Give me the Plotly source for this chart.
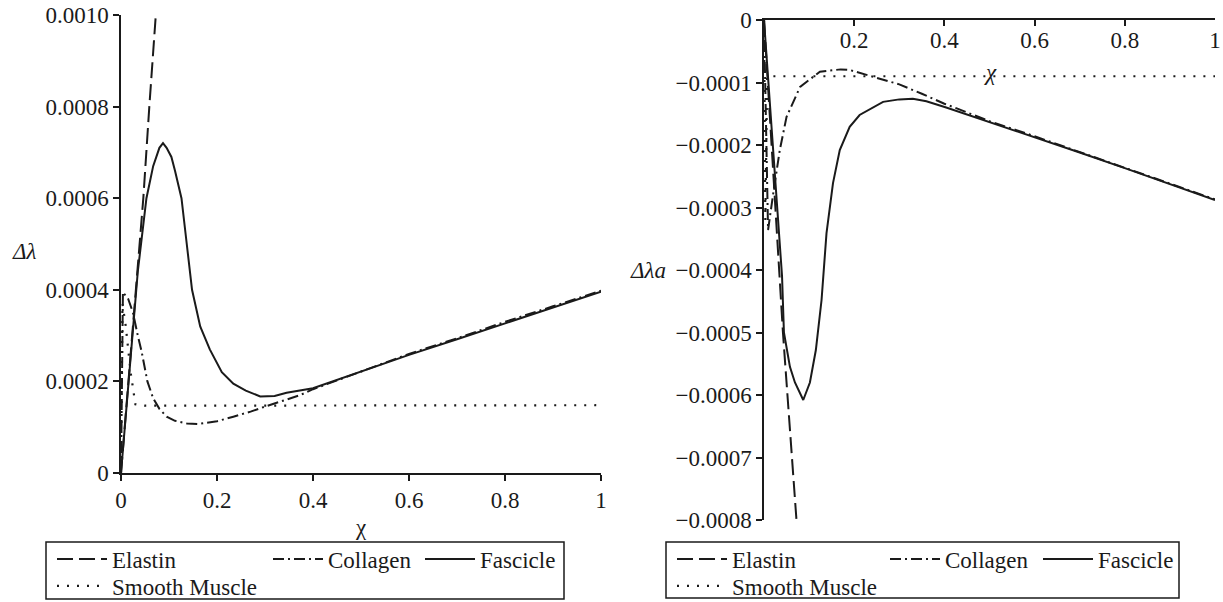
import plotly.graph_objects as go

W, H = 1223, 602

# ---------------- Left panel data (Δλ vs χ) ----------------
elastin_L_x = [0, 0.0465, 0.059, 0.0725]
elastin_L_y = [0, 0.0006, 0.0008, 0.0010]

collagen_L_x = [0, 0.004, 0.015, 0.025, 0.035, 0.043, 0.055, 0.067, 0.08, 0.095, 0.1125, 0.1375, 0.16,
                0.2, 0.234, 0.27, 0.3, 0.34, 0.373, 0.4, 0.5, 0.6, 0.7, 0.8, 0.9, 1.0]
collagen_L_y = [0, 0.000395, 0.00038, 0.00035, 0.0003, 0.000265, 0.0002, 0.000163, 0.00014, 0.000123,
                0.000114, 0.000108, 0.000107, 0.000113, 0.000123, 0.000134, 0.000145, 0.000158, 0.00017,
                0.000183, 0.000222, 0.00026, 0.000294, 0.00033, 0.000364, 0.000398]

fascicle_L_x = [0, 0.02, 0.035, 0.053, 0.067, 0.08, 0.0875, 0.095, 0.105, 0.1125, 0.126, 0.137, 0.148,
                0.165, 0.185, 0.21, 0.234, 0.26, 0.29, 0.32, 0.345, 0.4, 0.5, 0.6, 0.7, 0.8, 0.9, 1.0]
fascicle_L_y = [0, 0.00025, 0.00044, 0.0006, 0.00067, 0.00071, 0.00072, 0.00071, 0.00069, 0.00066,
                0.0006, 0.0005, 0.0004, 0.00032, 0.00027, 0.00022, 0.000195, 0.00018, 0.000167,
                0.000168, 0.000175, 0.000185, 0.000222, 0.000258, 0.000292, 0.000327, 0.000362, 0.000396]

smooth_L_x = [0, 0.003, 0.01, 0.02, 0.03, 0.05, 1.0]
smooth_L_y = [0, 0.00037, 0.00032, 0.00022, 0.00015, 0.000147, 0.000148]

# ---------------- Right panel data (Δλa vs χ) ----------------
elastin_R_x = [0, 0.02, 0.042, 0.072]
elastin_R_y = [0, -0.000235, -0.0005, -0.0008]

collagen_R_x = [0, 0.009, 0.02, 0.035, 0.05, 0.08, 0.124, 0.17, 0.19, 0.257, 0.3, 0.35, 0.4, 0.426,
                0.5, 0.6, 0.7, 0.8, 0.9, 1.0]
collagen_R_y = [0, -0.000336, -0.00028, -0.000208, -0.000155, -0.000107, -0.0000827, -0.000079,
                -0.00008, -0.0000933, -0.000103, -0.000118, -0.000134, -0.000141, -0.000162,
                -0.000186, -0.000211, -0.000236, -0.000261, -0.000287]

fascicle_R_x = [0, 0.02, 0.04, 0.0442, 0.0575, 0.0686, 0.087, 0.1018, 0.115, 0.1276, 0.1386, 0.153,
                0.168, 0.19, 0.212, 0.264, 0.3, 0.33, 0.36, 0.404, 0.5, 0.6, 0.7, 0.8, 0.9, 1.0]
fascicle_R_y = [0, -0.0002, -0.00041, -0.0005, -0.000555, -0.00058, -0.000608, -0.00058, -0.000528,
                -0.000448, -0.000341, -0.000261, -0.000208, -0.000171, -0.000152, -0.000131,
                -0.000127, -0.000126, -0.00013, -0.00014, -0.000163, -0.000187, -0.000212,
                -0.000237, -0.000262, -0.000288]

smooth_R_x = [0, 0.003, 0.007, 1.0]
smooth_R_y = [0, -0.00032, -0.00009, -0.00009]

# tick labels
x_ticks_L = [0, 0.2, 0.4, 0.6, 0.8, 1.0]
x_text_L = ["0", "0.2", "0.4", "0.6", "0.8", "1"]
y_ticks_L = [0, 0.0002, 0.0004, 0.0006, 0.0008, 0.0010]
y_text_L = ["0", "0.0002", "0.0004", "0.0006", "0.0008", "0.0010"]
x_ticks_R = [0.2, 0.4, 0.6, 0.8, 1.0]
x_text_R = ["0.2", "0.4", "0.6", "0.8", "1"]
y_ticks_R = [0, -0.0001, -0.0002, -0.0003, -0.0004, -0.0005, -0.0006, -0.0007, -0.0008]
y_text_R = ["0", "−0.0001", "−0.0002", "−0.0003", "−0.0004", "−0.0005", "−0.0006", "−0.0007", "−0.0008"]

names = ["Elastin", "Collagen", "Fascicle", "Smooth Muscle"]

FONT = "'Liberation Serif', 'Times New Roman', Times, serif"
FS = 23
INK = "#1a1a1a"
styles = {
    "Elastin": dict(dash="16px,6px", width=2),
    "Collagen": dict(dash="11px,4px,2px,4px", width=2),
    "Fascicle": dict(dash="solid", width=2),
    "Smooth Muscle": dict(dash="2px,8px", width=2.2),
}


def px(x):
    return x / W


def py(y):
    return (H - y) / H


fig = go.Figure()

left = [(elastin_L_x, elastin_L_y), (collagen_L_x, collagen_L_y),
        (fascicle_L_x, fascicle_L_y), (smooth_L_x, smooth_L_y)]
right = [(elastin_R_x, elastin_R_y), (collagen_R_x, collagen_R_y),
         (fascicle_R_x, fascicle_R_y), (smooth_R_x, smooth_R_y)]

for i, (nm, (xs, ys)) in enumerate(zip(names, left)):
    fig.add_trace(go.Scatter(x=xs, y=ys, mode="lines", name=nm, showlegend=True,
                             line=dict(color=INK, **styles[nm]),
                             xaxis="x", yaxis="y", legend=f"legend{i+1}" if i else "legend"))
for i, (nm, (xs, ys)) in enumerate(zip(names, right)):
    fig.add_trace(go.Scatter(x=xs, y=ys, mode="lines", name=nm, showlegend=True,
                             line=dict(color=INK, **styles[nm]),
                             xaxis="x2", yaxis="y2", legend=f"legend{i+5}"))

tickfont = dict(family=FONT, size=FS, color=INK)
axis_common = dict(showgrid=False, zeroline=False, showline=True, linecolor=INK, linewidth=1.5,
                   ticks="outside", ticklen=6, tickwidth=1.5, tickcolor=INK, tickfont=tickfont,
                   tickmode="array", ticklabeloverflow="allow")

fig.update_layout(
    width=W, height=H,
    margin=dict(l=0, r=0, t=0, b=0, autoexpand=False),
    paper_bgcolor="white", plot_bgcolor="white",
    font=dict(family=FONT, size=FS, color=INK),
    showlegend=True,
    xaxis=dict(domain=[px(121), px(601)], range=[0, 1], anchor="y",
               tickvals=x_ticks_L, ticktext=x_text_L, **axis_common),
    yaxis=dict(domain=[py(473), py(15)], range=[0, 0.001], anchor="x",
               tickvals=y_ticks_L, ticktext=y_text_L, **axis_common),
    xaxis2=dict(domain=[px(764), px(1215)], range=[0, 1], anchor="y2", side="top",
                tickvals=x_ticks_R, ticktext=x_text_R,
                **{**axis_common, "ticks": "inside"}, ticklabelposition="inside",
                ticklabelstandoff=8),
    yaxis2=dict(domain=[py(520), py(20)], range=[-0.0008, 0], anchor="x2",
                tickvals=y_ticks_R, ticktext=y_text_R, **axis_common),
    hovermode=False,
)

# legends: one per entry so each sits where the reference puts it
legend_pos = [  # (text left x, text centre y)
    (112, 560), (328, 560), (480, 560), (112, 587),
    (732, 560), (945, 560), (1098, 560), (732, 587),
]
for k, (tx, ty) in enumerate(legend_pos):
    key = "legend" if k == 0 else f"legend{k+1}"
    fig.update_layout(**{key: dict(x=px(tx - 60), y=py(ty - 1), xanchor="left", yanchor="middle",
                                   bgcolor="rgba(0,0,0,0)", borderwidth=0, visible=True,
                                   font=dict(family=FONT, size=FS, color=INK),
                                   orientation="h", itemwidth=50)})

# legend boxes
for x0, x1, y0, y1 in [(46, 564, 542, 599), (666, 1179, 542, 598)]:
    fig.add_shape(type="rect", xref="paper", yref="paper",
                  x0=px(x0), x1=px(x1), y0=py(y1), y1=py(y0),
                  line=dict(color=INK, width=1.5), fillcolor="rgba(0,0,0,0)")

# axis titles as annotations
ann_font = dict(family=FONT, size=FS, color=INK)
for txt, ax_, ay_ in [("χ", 361, 527), ("<i>χ</i>", 990, 72),
                      ("<i>Δλ</i>", 24, 251), ("<i>Δλa</i>", 648, 270)]:
    fig.add_annotation(text=txt, xref="paper", yref="paper", x=px(ax_), y=py(ay_),
                       xanchor="center", yanchor="middle", showarrow=False, font=ann_font)

fig.write_html("out.html")
